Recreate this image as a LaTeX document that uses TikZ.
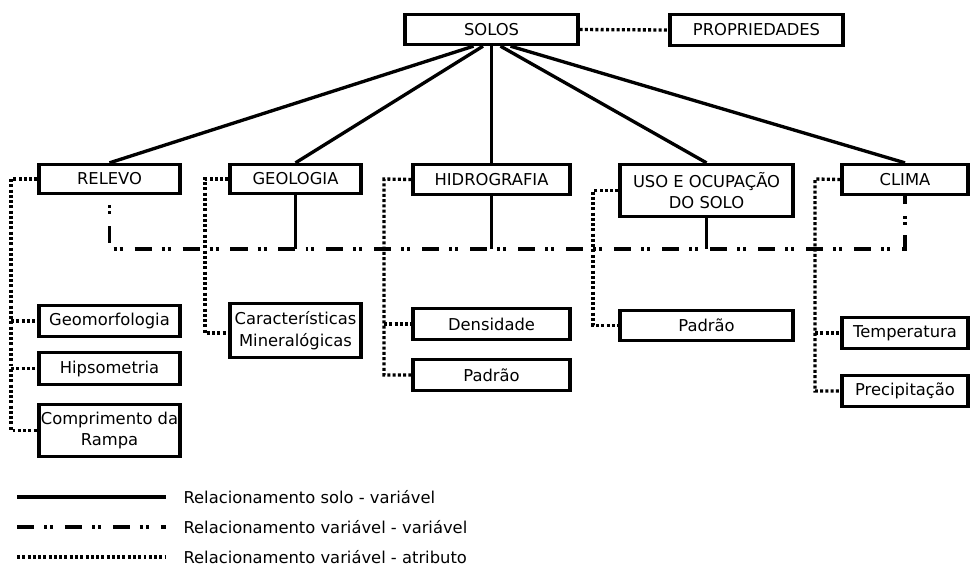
\documentclass[tikz,border=0pt]{standalone}
\usepackage{fontspec}
\setmainfont{DejaVu Sans}
\usepackage{tikz}
\usetikzlibrary{positioning}

\begin{document}
\begin{tikzpicture}[x=0.02cm, y=-0.02cm,
        caixa/.style={draw, line width=1.9pt, inner sep=0pt, align=center, font=\fontsize{9.3}{12.3}\selectfont},
        ligacao/.style={line width=1.9pt},
        pontilhado/.style={line width=1.9pt, dash pattern=on 1.7pt off 1.3pt},
        tracoponto/.style={line width=1.9pt, dash pattern=on 9.7pt off 5.7pt on 1.7pt off 1.7pt on 1.7pt off 6.8pt}]
        \useasboundingbox (0,0) rectangle (972,566);

        % Topo
        \node[caixa, minimum width=3.46cm, minimum height=0.6cm] (solos) at (491.5,29.5) {SOLOS};
        \node[caixa, minimum width=3.46cm, minimum height=0.62cm] (prop) at (756.5,30) {PROPRIEDADES};
        \draw[pontilhado] (solos.east) -- (prop.west);

        % Variaveis
        \node[caixa, minimum width=2.82cm, minimum height=0.58cm] (relevo) at (109.5,179) {RELEVO};
        \node[caixa, minimum width=2.62cm, minimum height=0.58cm] (geologia) at (295.5,179) {GEOLOGIA};
        \node[caixa, minimum width=3.14cm, minimum height=0.6cm] (hidro) at (491.5,179.5) {HIDROGRAFIA};
        \node[caixa, minimum width=3.46cm, minimum height=1.04cm] (uso) at (706.5,190.5) {USO E OCUPAÇÃO\\DO SOLO};
        \node[caixa, minimum width=2.52cm, minimum height=0.6cm] (clima) at (905,179.5) {CLIMA};

        % Relacionamento solo - variavel
        \draw[ligacao] ([xshift=-0.36cm]solos.south) -- (relevo.north);
        \draw[ligacao] ([xshift=-0.17cm]solos.south) -- (geologia.north);
        \draw[ligacao] (solos.south) -- (hidro.north);
        \draw[ligacao] ([xshift=0.18cm]solos.south) -- (uso.north);
        \draw[ligacao] ([xshift=0.38cm]solos.south) -- (clima.north);

        % Relacionamento variavel - variavel
        \coordinate (eixo) at (0,249);
        \draw[tracoponto, dash phase=9.7pt] (relevo.south) -- (relevo.south |- eixo) -- (clima.south |- eixo) -- (clima.south);
        \draw[ligacao] (geologia.south) -- (geologia.south |- eixo);
        \draw[ligacao] (hidro.south) -- (hidro.south |- eixo);
        \draw[ligacao] (uso.south) -- (uso.south |- eixo);

        % Atributos
        \node[caixa, minimum width=2.82cm, minimum height=0.62cm] (geomorf) at (109.5,321) {Geomorfologia};
        \node[caixa, minimum width=2.82cm, minimum height=0.64cm] (hipso) at (109.5,368.5) {Hipsometria};
        \node[caixa, minimum width=2.82cm, minimum height=1.04cm] (rampa) at (109.5,430.5) {Comprimento da\\Rampa};
        \node[caixa, minimum width=2.62cm, minimum height=1.08cm] (caract) at (295.5,330.5) {Características\\Mineralógicas};
        \node[caixa, minimum width=3.14cm, minimum height=0.62cm] (dens) at (491.5,324) {Densidade};
        \node[caixa, minimum width=3.14cm, minimum height=0.62cm] (padraoh) at (491.5,375) {Padrão};
        \node[caixa, minimum width=3.46cm, minimum height=0.6cm] (padraou) at (706.5,325.5) {Padrão};
        \node[caixa, minimum width=2.52cm, minimum height=0.62cm] (temp) at (905,333) {Temperatura};
        \node[caixa, minimum width=2.52cm, minimum height=0.62cm] (precip) at (905,391) {Precipitação};

        % Relacionamento variavel - atributo
        \coordinate (trel) at (11,179);
        \coordinate (tgeo) at (205,179);
        \coordinate (thid) at (384,179);
        \coordinate (tuso) at (593,190.5);
        \coordinate (tcli) at (815,179);
        \draw[pontilhado] (relevo.west) -- (trel) |- (rampa.west);
        \draw[pontilhado] (trel |- geomorf.west) -- (geomorf.west);
        \draw[pontilhado] (trel |- hipso.west) -- (hipso.west);
        \draw[pontilhado] (geologia.west) -- (tgeo) |- ([yshift=-0.05cm]caract.west);
        \draw[pontilhado] (hidro.west) -- (thid) |- (padraoh.west);
        \draw[pontilhado] (thid |- dens.west) -- (dens.west);
        \draw[pontilhado] (uso.west) -- (tuso) |- (padraou.west);
        \draw[pontilhado] (clima.west) -- (tcli) |- (precip.west);
        \draw[pontilhado] (tcli |- temp.west) -- (temp.west);

        % Legenda
        \coordinate (l1) at (17,497);
        \coordinate (l2) at (17,527);
        \coordinate (l3) at (17,557);
        \draw[ligacao] (l1) -- ++(149,0) node[right=0.2cm, font=\fontsize{9.3}{12.3}\selectfont] {Relacionamento solo - variável};
        \draw[tracoponto] (l2) -- ++(149,0) node[right=0.2cm, font=\fontsize{9.3}{12.3}\selectfont] {Relacionamento variável - variável};
        \draw[pontilhado] (l3) -- ++(149,0) node[right=0.2cm, font=\fontsize{9.3}{12.3}\selectfont] {Relacionamento variável - atributo};
    \end{tikzpicture}
\end{document}
